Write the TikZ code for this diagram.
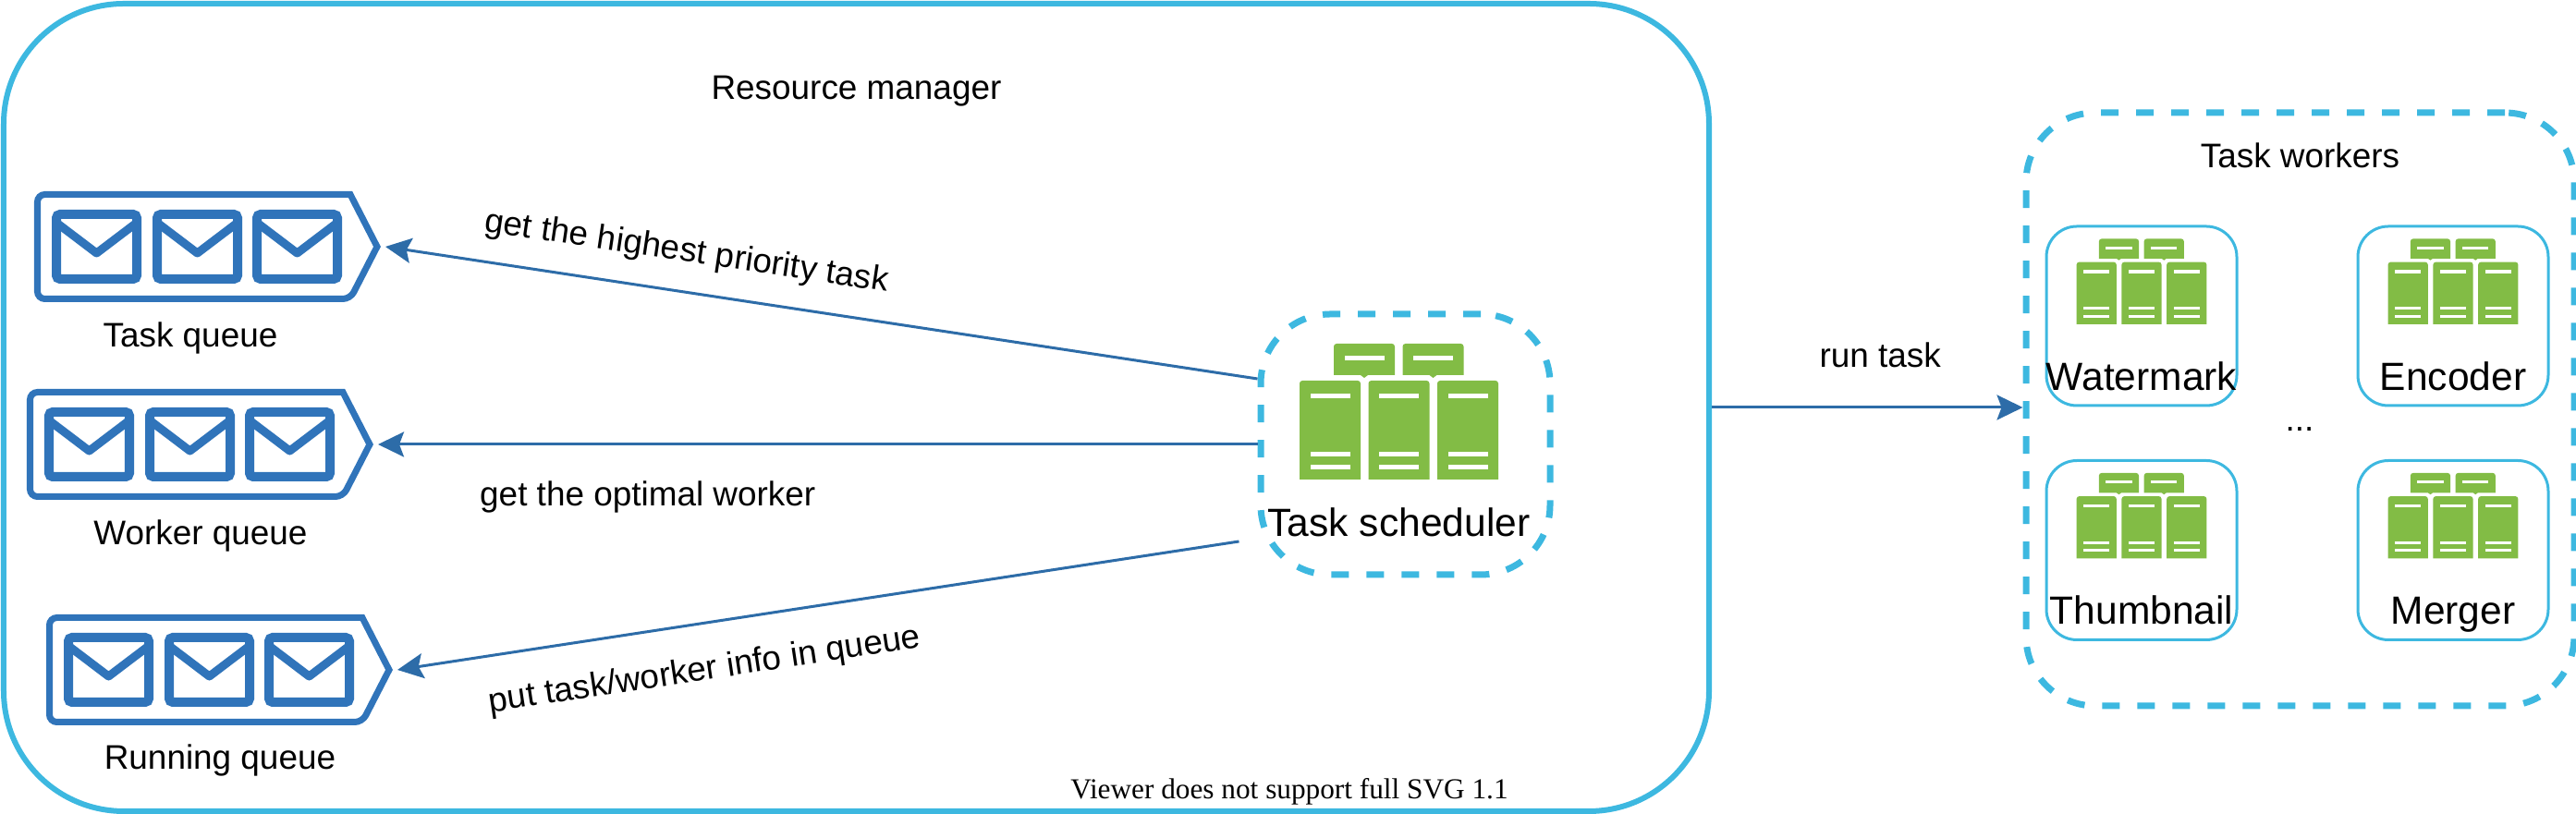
\documentclass[tikz,border=0pt]{standalone}
\usepackage{fontspec}
\usetikzlibrary{arrows.meta}
\setmainfont{Liberation Sans}
\newfontfamily\viewerfont{Liberation Serif}
\definecolor{boxblue}{HTML}{3DB8E0}
\definecolor{queueblue}{HTML}{3074BA}
\definecolor{arrowblue}{HTML}{2D6CA8}
\definecolor{rackgreen}{HTML}{82BC45}
\tikzset{
  rack/.pic={
    \foreach \bx in {-1.075,-0.33,0.415}{
      \fill[rackgreen] (\bx,0) [rounded corners=0.03cm] -- (\bx,1.07) -- (\bx+0.66,1.07) [sharp corners] -- (\bx+0.66,0) -- cycle;
      \fill[white] (\bx+0.115,0.88) rectangle (\bx+0.545,0.93);
      \fill[white] (\bx+0.115,0.25) rectangle (\bx+0.545,0.30);
      \fill[white] (\bx+0.115,0.113) rectangle (\bx+0.545,0.16);
    }
    \foreach \bx in {-0.705,0.04}{
      \fill[rackgreen] (\bx,1.13) [rounded corners=0.03cm] -- (\bx,1.47) -- (\bx+0.66,1.47) [sharp corners] -- (\bx+0.66,1.13) -- (\bx+0.37,1.13) -- (\bx+0.33,1.10) -- (\bx+0.29,1.13) -- cycle;
      \fill[white] (\bx+0.115,1.29) rectangle (\bx+0.545,1.34);
    }
  },
  queue/.pic={
    \draw[queueblue, line width=0.07cm, rounded corners=0.08cm] (3.42,0.565) -- (0.035,0.565) -- (0.035,-0.565) -- (3.42,-0.565) [sharp corners] -- (3.71,0) -- cycle;
    \foreach \ex in {0.19,1.28,2.36}{
      \draw[queueblue, line width=0.10cm, rounded corners=0.04cm] (\ex+0.05,-0.35) rectangle (\ex+0.92,0.35);
      \draw[queueblue, line width=0.09cm, line join=round] (\ex+0.05,0.26) -- (\ex+0.485,-0.07) -- (\ex+0.92,0.26);
    }
    \coordinate (-tip) at (3.80,0);
  }
}
\begin{document}
\begin{tikzpicture}
    \tikzstyle{outer} = [rectangle, draw=boxblue, line width=0.06cm, rounded corners=1.3cm,
                                      minimum width=18.45cm, minimum height=8.74cm]
    \tikzstyle{group} = [rectangle, draw=boxblue, line width=0.07cm, rounded corners=0.75cm,
                                      dash pattern=on 0.19cm off 0.19cm]
    \tikzstyle{worker} = [rectangle, draw=boxblue, line width=0.03cm, rounded corners=0.33cm,
                                      minimum width=2.06cm, minimum height=1.94cm]
    \tikzstyle{txt} = [font=\fontsize{10.5}{12}\selectfont, inner sep=0pt]
    \tikzstyle{big} = [font=\fontsize{12.1}{14}\selectfont, inner sep=0pt]
    \tikzstyle{small rack} = [xscale=0.655, yscale=0.63]
    \tikzstyle{flow} = [draw=arrowblue, line width=0.03cm, -{Stealth[length=0.28cm, width=0.27cm, inset=0.05cm]}]
  \useasboundingbox (0,0) rectangle (27.87,8.81);
  \node[outer, label={[txt, shift={(0,-1.15)}]north:Resource manager}](rm) at (9.265,4.40){};
  \node[group, minimum width=3.13cm, minimum height=2.82cm, right of=rm, xshift=4.94cm, yshift=-0.40cm,
        label={[big, anchor=base, shift={(-0.07,0.45)}]south:Task scheduler}](sched){};
  \node[group, minimum width=5.93cm, minimum height=6.42cm, right of=rm, xshift=14.62cm, yshift=-0.02cm,
        label={[txt, shift={(0,-0.64)}]north:Task workers}](workers){};
  \node[worker, left of=workers, xshift=-0.715cm, yshift=1.01cm,
        label={[big, anchor=base, shift={(0,0.18)}]south:Watermark}](watermark){};
  \node[worker, right of=watermark, xshift=2.37cm,
        label={[big, anchor=base, shift={(0,0.18)}]south:Encoder}](encoder){};
  \node[worker, below of=watermark, yshift=-1.535cm,
        label={[big, anchor=base, shift={(0,0.18)}]south:Thumbnail}](thumbnail){};
  \node[worker, right of=thumbnail, xshift=2.37cm,
        label={[big, anchor=base, shift={(0,0.18)}]south:Merger}](merger){};
  \node[txt] (dots) at (24.88,4.16){...};
  \pic at ([shift={(-0.07,-0.38)}]sched.center) {rack};
  \pic[small rack] at ([yshift=-0.09cm]watermark.center) {rack};
  \pic[small rack] at ([yshift=-0.09cm]encoder.center) {rack};
  \pic[small rack] at ([yshift=-0.09cm]thumbnail.center) {rack};
  \pic[small rack] at ([yshift=-0.09cm]merger.center) {rack};
  \pic (taskq) at (0.37,6.14) {queue};
  \pic (workerq) at (0.29,4.00) {queue};
  \pic (runq) at (0.50,1.56) {queue};
  \node[txt] (tasklbl) at (2.06,5.155){Task queue};
  \node[txt] (workerlbl) at (2.17,3.015){Worker queue};
  \node[txt] (runlbl) at (2.38,0.585){Running queue};
  \draw[flow] ([yshift=0.71cm]sched.west) -- node[txt, above, rotate=-8.5, yshift=0.24cm, xshift=-1.54cm]{get the highest priority task} (taskq-tip);
  \draw[flow] (sched.west) -- node[txt, below, yshift=-0.38cm, xshift=-1.84cm]{get the optimal worker} (workerq-tip);
  \draw[flow] ([xshift=-0.20cm, yshift=-1.05cm]sched.west) -- node[txt, below, rotate=8.6, yshift=-0.33cm, xshift=-1.32cm]{put task/worker info in queue} (runq-tip);
  \draw[flow] (rm.east) -- node[txt, above, yshift=0.42cm, xshift=0.14cm]{run task} (rm.east -| workers.west);
  \node[font=\viewerfont\fontsize{8.9}{11}\selectfont, inner sep=0pt] (viewer) at (13.95,0.24){Viewer does not support full SVG 1.1};
  \end{tikzpicture}
\end{document}
